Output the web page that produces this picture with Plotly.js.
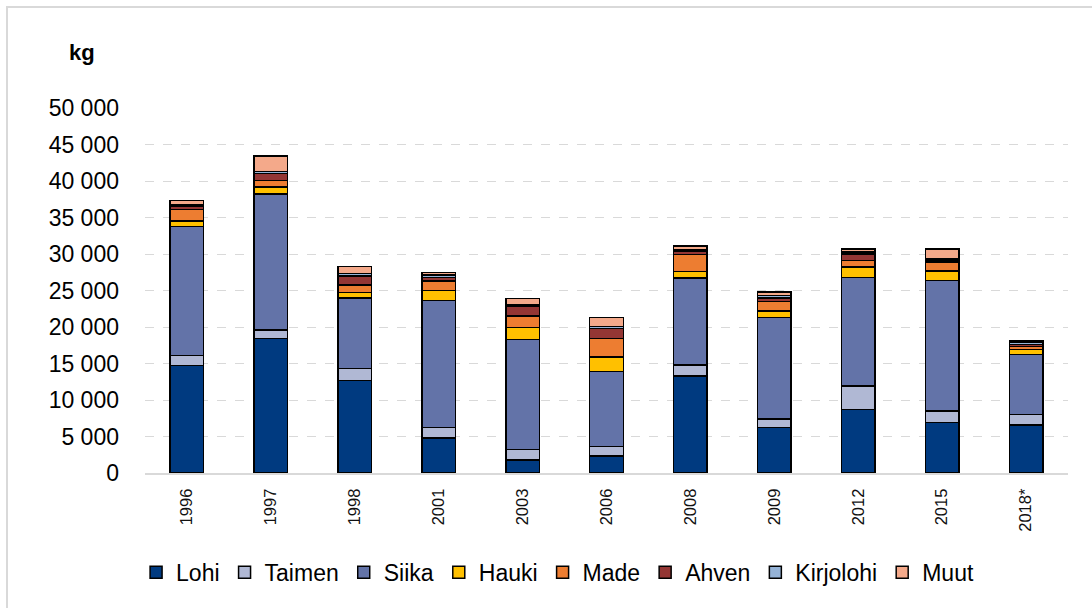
<!DOCTYPE html>
<html>
<head>
<meta charset="utf-8">
<script src="https://cdn.plot.ly/plotly-3.0.1.min.js"></script>
<style>
html,body{margin:0;padding:0;background:#fff;}
#wrap{position:relative;width:1092px;height:608px;overflow:hidden;}
#chart{width:1092px;height:608px;}
#frame{position:absolute;left:6px;top:6px;width:1100px;height:620px;border-left:2px solid #d9d9d9;border-top:2px solid #d9d9d9;pointer-events:none;}
</style>
</head>
<body>
<div id="wrap"><div id="chart"></div><div id="frame"></div></div>
<script>
const years = ["1996","1997","1998","2001","2003","2006","2008","2009","2012","2015","2018*"];
const seriesNames = ["Lohi","Taimen","Siika","Hauki","Made","Ahven","Kirjolohi","Muut"];
const lohi      = [14700,18400,12700, 4800, 1800, 2300,13300, 6200, 8700, 6900, 6600];
const taimen    = [ 1400, 1200, 1600, 1450, 1450, 1300, 1500, 1200, 3200, 1600, 1400];
const siika     = [17700,18600, 9700,17350,15050,10300,11900,13900,14850,17900, 8200];
const hauki     = [  700, 1000,  750, 1400, 1600, 2000,  900,  900, 1450, 1300,  700];
const made      = [ 1600,  900, 1000, 1300, 1600, 2500, 2300, 1300,  900, 1200,  400];
const ahven     = [  400,  900, 1250,  500, 1300, 1400,  500,  500,  900,  300,  300];
const kirjolohi = [  200,  300,  300,  300,  200,  300,  200,  300,  300,  200,  250];
const muut      = [  600, 2100, 1000,  400,  900, 1200,  500,  500,  400, 1300,  250];
const seriesValues = [lohi,taimen,siika,hauki,made,ahven,kirjolohi,muut];
const colors = ["#003A80","#B0B8D4","#6373A8","#FFC000","#ED7D31","#943634","#95B3D7","#F4A98A"];

const traces = seriesNames.map((n,i)=>({
  type:'bar', name:n, x:years, y:seriesValues[i],
  marker:{color:colors[i], line:{color:'#000', width:1.5}},
  hoverinfo:'name+y'
}));

const layout = {
  width:1092, height:608,
  margin:{l:145, r:24, t:108, b:135},
  barmode:'stack', bargap:0.6,
  separators:', ',
  paper_bgcolor:'#fff', plot_bgcolor:'#fff',
  font:{family:'Arial, "Liberation Sans", sans-serif', color:'#000'},
  xaxis:{type:'category', tickangle:-90, tickfont:{size:16.5, color:'#111'},
    showline:true, linecolor:'#d9d9d9', linewidth:2, ticks:'', showgrid:false, zeroline:false,
    ticklabelstandoff:7},
  yaxis:{range:[0,50000], dtick:5000, tickformat:',d', tickfont:{size:23},
    showgrid:true, gridcolor:'#d9d9d9', griddash:'dash', gridwidth:1,
    zeroline:false, showline:false, ticks:'', ticklabelstandoff:25, fixedrange:true},
  showlegend:true,
  legend:{orientation:'h', x:0.447, xanchor:'center', y:-0.272, yanchor:'middle',
    font:{size:23}, itemwidth:30, traceorder:'normal'},
  annotations:[{text:'<b>kg</b>', xref:'paper', yref:'paper', x:-0.068, y:1.151,
    xanchor:'center', yanchor:'middle', showarrow:false, font:{size:22}}]
};
Plotly.newPlot('chart', traces, layout, {displayModeBar:false, staticPlot:true});
</script>
</body>
</html>
